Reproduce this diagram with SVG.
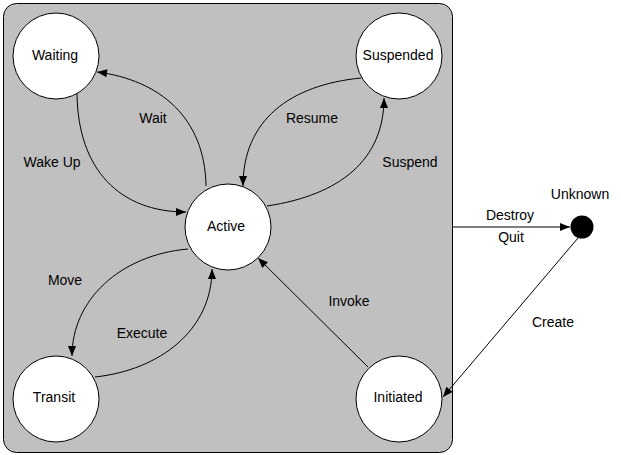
<svg xmlns="http://www.w3.org/2000/svg" width="621" height="455" viewBox="0 0 621 455">
<style>
text{font-family:"Liberation Sans",Arial,sans-serif;font-size:14px;fill:#000;text-anchor:middle}
.st{fill:#fff;stroke:#000;stroke-width:1}
.e{fill:none;stroke:#000;stroke-width:1;marker-end:url(#ah)}
</style>
<defs>
<marker id="ah" markerUnits="userSpaceOnUse" markerWidth="11" markerHeight="9" refX="10" refY="4" orient="auto" overflow="visible">
<path d="M0,0 L10,4 L0,8 z" fill="#000"/>
</marker>
</defs>
<g id="container">
<rect x="3.5" y="3.5" width="449" height="449" rx="13" ry="13" fill="#c0c0c0" stroke="#000" stroke-width="1"/>
</g>
<g id="connectors">
<path class="e" d="M206,186 C205,118 160,80 97,72"/>
<path class="e" d="M77,94 C78,170 120,212 186,212"/>
<path class="e" d="M361,78 C290,85 243,120 243,186"/>
<path class="e" d="M267,206 C340,195 384,160 384,98"/>
<path class="e" d="M188,249 C120,255 72,300 72,356"/>
<path class="e" d="M95,377 C160,370 212,330 212,269"/>
<path class="e" d="M368,367 L258,258"/>
<path class="e" d="M452,227 L570,227"/>
<path class="e" d="M578,238 L443,397"/>
</g>
<g id="labels">
<text x="153" y="123">Wait</text>
<text x="52" y="167">Wake Up</text>
<text x="312" y="123">Resume</text>
<text x="410" y="167">Suspend</text>
<text x="65" y="285">Move</text>
<text x="142" y="338">Execute</text>
<text x="349" y="306">Invoke</text>
<text x="510" y="220">Destroy</text>
<text x="511" y="242">Quit</text>
<text x="553" y="327">Create</text>
</g>
<g id="waiting"><circle class="st" cx="56" cy="56" r="43"/><text x="55" y="60">Waiting</text></g>
<g id="suspended"><circle class="st" cx="399" cy="56" r="43"/><text x="398" y="60">Suspended</text></g>
<g id="active"><circle class="st" cx="228" cy="227" r="43"/><text x="226" y="231">Active</text></g>
<g id="transit"><circle class="st" cx="56" cy="399" r="43"/><text x="54" y="402">Transit</text></g>
<g id="initiated"><circle class="st" cx="399" cy="399" r="43"/><text x="398" y="402">Initiated</text></g>
<g id="unknown"><circle cx="582" cy="227" r="11.5" fill="#000"/><text x="580" y="199">Unknown</text></g>
</svg>
